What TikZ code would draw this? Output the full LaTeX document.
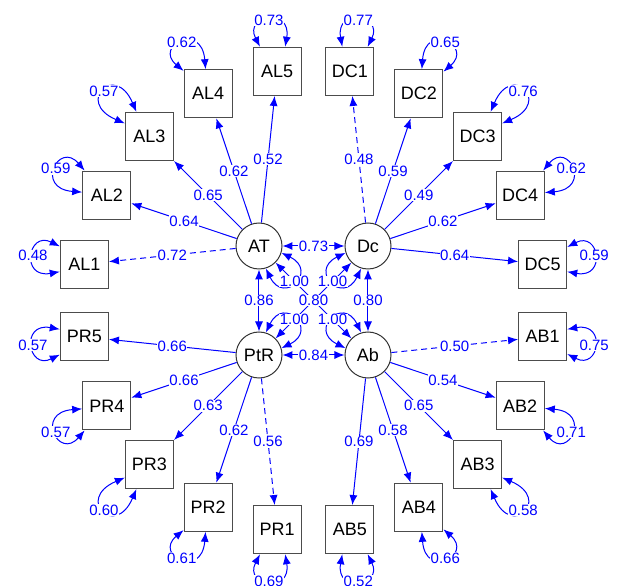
\documentclass[tikz,border=0pt]{standalone}
\usepackage{fontspec}
\setmainfont{Liberation Sans}
\usetikzlibrary{shapes,arrows.meta,calc}

\begin{document}
\begin{tikzpicture}[x=1pt,y=1pt,
      obs/.style={draw=black!70,line width=1.2pt,minimum size=48pt,inner sep=0pt,font=\fontsize{18}{20}\selectfont},
      lat/.style={circle,draw=black!80,line width=1pt,minimum size=46pt,inner sep=0pt,font=\fontsize{18}{20}\selectfont},
      lbl/.style={fill=white,inner sep=0.6pt,text=blue,font=\fontsize{15}{16}\selectfont},
      load/.style={draw=blue,line width=1pt,-{Latex[length=10pt,width=8pt]}},
      fixed/.style={load,dash pattern=on 6pt off 4pt},
      cov/.style={draw=blue,line width=1pt,{Latex[length=10pt,width=8pt]}-{Latex[length=10pt,width=8pt]}}]
    \useasboundingbox (-313.5,-285.5) rectangle (305.5,300.5);
    \node[lat] (AT) at (-54.5,54.5) {AT};
    \node[lat] (Dc) at (54.5,54.5) {Dc};
    \node[lat] (PtR) at (-54.5,-54.5) {PtR};
    \node[lat] (Ab) at (54.5,-54.5) {Ab};
    \foreach \n/\a in {AL1/171,AL2/153,AL3/135,AL4/117,AL5/99,
        DC1/81,DC2/63,DC3/45,DC4/27,DC5/9,
        AB1/-9,AB2/-27,AB3/-45,AB4/-63,AB5/-81,
        PR1/-99,PR2/-117,PR3/-135,PR4/-153,PR5/-171}
      \node[obs] (\n) at (\a:232) {\n};
    \draw[fixed] (AT) -- node[lbl] {0.72} (AL1);
    \draw[fixed] (Dc) -- node[lbl] {0.48} (DC1);
    \draw[fixed] (Ab) -- node[lbl] {0.50} (AB1);
    \draw[fixed] (PtR) -- node[lbl] {0.56} (PR1);
    \foreach \f/\n/\v in {AT/AL2/0.64,AT/AL3/0.65,AT/AL4/0.62,AT/AL5/0.52,
        Dc/DC2/0.59,Dc/DC3/0.49,Dc/DC4/0.62,Dc/DC5/0.64,
        Ab/AB2/0.54,Ab/AB3/0.65,Ab/AB4/0.58,Ab/AB5/0.69,
        PtR/PR2/0.62,PtR/PR3/0.63,PtR/PR4/0.66,PtR/PR5/0.66}
      \draw[load] (\f) -- node[lbl] {\v} (\n);
    \draw[cov] (AT) -- node[lbl] {0.73} (Dc);
    \draw[cov] (AT) -- node[lbl] {0.86} (PtR);
    \draw[cov] (Dc) -- node[lbl] {0.80} (Ab);
    \draw[cov] (PtR) -- node[lbl] {0.84} (Ab);
    \draw[cov] (Dc) -- node[lbl] {0.80} (PtR);
    \draw[cov] (AT) -- node[lbl] {0.80} (Ab);
    \foreach \n/\a [evaluate=\a as \p using int(\a+28),
        evaluate=\a as \q using int(\a-28)] in {AT/-45,Dc/-135,PtR/45,Ab/135}
      \draw[cov] (\n.\p) .. controls ($(\n.\a)+(\a+34:44)$) and ($(\n.\a)+(\a-34:44)$) .. node[lbl] {1.00} (\n.\q);
    \foreach \n/\a/\v [evaluate=\a as \p using int(\a+28-11*sin(2*\a)^2),
        evaluate=\a as \q using int(\a-28+11*sin(2*\a)^2),
        evaluate=\a as \r using 43+8*sin(2*\a)^2] in {AL1/171/0.48,AL2/153/0.59,AL3/135/0.57,AL4/117/0.62,AL5/99/0.73,
        DC1/81/0.77,DC2/63/0.65,DC3/45/0.76,DC4/27/0.62,DC5/9/0.59,
        AB1/-9/0.75,AB2/-27/0.71,AB3/-45/0.58,AB4/-63/0.66,AB5/-81/0.52,
        PR1/-99/0.69,PR2/-117/0.61,PR3/-135/0.60,PR4/-153/0.57,PR5/-171/0.57}
      \draw[cov] (\n.\p) .. controls ($(\n.\a)+(\a+34:\r)$) and ($(\n.\a)+(\a-34:\r)$) .. node[lbl] {\v} (\n.\q);
\end{tikzpicture}
\end{document}
